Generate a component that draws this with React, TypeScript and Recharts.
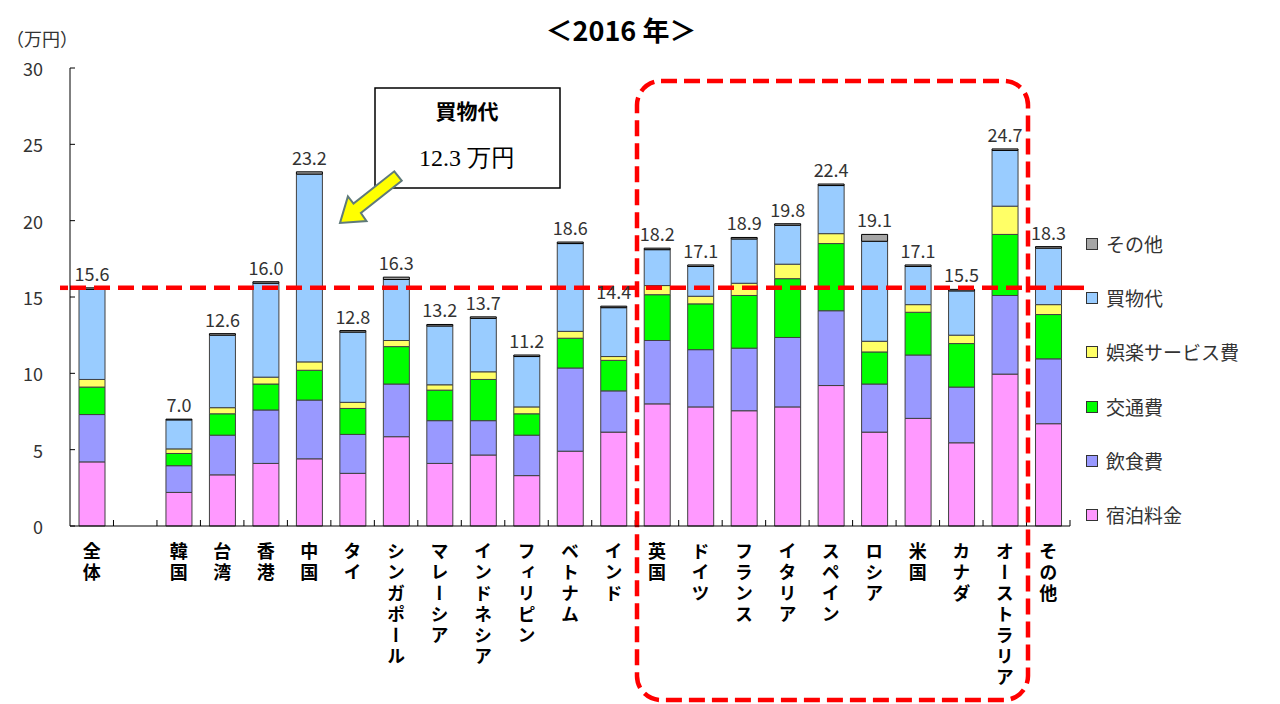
import React from 'react';
import { BarChart, Bar, XAxis, YAxis, LabelList, ReferenceLine, Legend, Customized } from 'recharts';

const categories = ['全体', '', '韓国', '台湾', '香港', '中国', 'タイ', 'シンガポール', 'マレーシア', 'インドネシア', 'フィリピン', 'ベトナム', 'インド', '英国', 'ドイツ', 'フランス', 'イタリア', 'スペイン', 'ロシア', '米国', 'カナダ', 'オーストラリア', 'その他'];

const lodging = [4.2, null, 2.2, 3.35, 4.1, 4.4, 3.45, 5.85, 4.1, 4.65, 3.3, 4.9, 6.15, 8.0, 7.8, 7.55, 7.8, 9.2, 6.15, 7.05, 5.45, 9.95, 6.7];
const food = [3.1, null, 1.75, 2.6, 3.5, 3.85, 2.55, 3.45, 2.8, 2.25, 2.65, 5.45, 2.7, 4.15, 3.75, 4.1, 4.55, 4.9, 3.15, 4.15, 3.65, 5.15, 4.25];
const transport = [1.8, null, 0.8, 1.4, 1.7, 1.95, 1.7, 2.45, 2.0, 2.7, 1.4, 1.95, 2.0, 3.0, 3.0, 3.45, 3.85, 4.4, 2.1, 2.8, 2.85, 4.0, 2.9];
const entertainment = [0.5, null, 0.3, 0.4, 0.45, 0.55, 0.4, 0.4, 0.35, 0.5, 0.45, 0.45, 0.25, 0.6, 0.5, 0.8, 0.95, 0.65, 0.7, 0.5, 0.55, 1.85, 0.65];
const shopping = [5.9, null, 1.9, 4.75, 6.15, 12.3, 4.6, 4.0, 3.85, 3.5, 3.3, 5.75, 3.2, 2.35, 1.95, 2.9, 2.55, 3.15, 6.55, 2.5, 2.9, 3.65, 3.7];
const other = [0.1, null, 0.05, 0.1, 0.1, 0.15, 0.1, 0.15, 0.1, 0.1, 0.1, 0.1, 0.1, 0.1, 0.1, 0.1, 0.1, 0.1, 0.45, 0.1, 0.1, 0.1, 0.1];
const totals = [15.6, null, 7.0, 12.6, 16.0, 23.2, 12.8, 16.3, 13.2, 13.7, 11.2, 18.6, 14.4, 18.2, 17.1, 18.9, 19.8, 22.4, 19.1, 17.1, 15.5, 24.7, 18.3];

const yTicks = [0, 5, 10, 15, 20, 25, 30];
const overallAverage = 15.6;

const series = [
  { key: 'lodging', name: '宿泊料金', color: '#FF99FF', values: lodging },
  { key: 'food', name: '飲食費', color: '#9999FF', values: food },
  { key: 'transport', name: '交通費', color: '#00FF00', values: transport },
  { key: 'entertainment', name: '娯楽サービス費', color: '#FFFF66', values: entertainment },
  { key: 'shopping', name: '買物代', color: '#99CCFF', values: shopping },
  { key: 'other', name: 'その他', color: '#A6A6A6', values: other },
];

const data = categories.map((c, i) => {
  const row: any = { name: c, total: totals[i] };
  series.forEach((s) => { row[s.key] = s.values[i]; });
  return row;
});

const FONT = '"Noto Sans CJK JP", "Noto Sans", sans-serif';

const XTick = (props: any) => {
  const { x, y, payload } = props;
  const label = String(payload.value || '');
  if (!label) return <g />;
  return (
    <text x={x} y={y + 16} fontSize={18} fontWeight={700} fill="#000" fontFamily={FONT}
      style={{ writingMode: 'vertical-rl', letterSpacing: 3 } as any}>{label}</text>
  );
};

const YTick = (props: any) => {
  const { x, y, payload } = props;
  return (
    <g>
      <text x={x} y={y} textAnchor="end" dominantBaseline="central" fontSize={18} fill="#333" fontFamily={FONT}>{payload.value}</text>
      <line x1={x + 27} x2={x + 32} y1={y} y2={y} stroke="#000" strokeWidth={1} />
    </g>
  );
};

const renderLegend = () => {
  const items = [...series].reverse();
  return (
    <div style={{ fontFamily: FONT }}>
      {items.map((s) => (
        <div key={s.key} style={{ display: 'flex', alignItems: 'center', height: 54.2 }}>
          <div style={{ width: 10, height: 10, background: s.color, border: '1px solid #333', marginRight: 8 }} />
          <span style={{ fontSize: 19, color: '#333', lineHeight: '20px' }}>{s.name}</span>
        </div>
      ))}
    </div>
  );
};

const Decorations = () => {
  const left = 70;
  const w = 1000;
  const n = categories.length;
  const ticks = [];
  for (let i = 1; i <= n; i++) {
    const xx = left + (w * i) / n;
    ticks.push(<line key={i} x1={xx} x2={xx} y1={526} y2={520} stroke="#000" strokeWidth={1} />);
  }
  return (
    <g>
      {ticks}
      <line x1={60} x2={70} y1={287.8} y2={287.8} stroke="#FF0000" strokeWidth={4.5} strokeDasharray="8 3" />
      <line x1={1070} x2={1090} y1={287.8} y2={287.8} stroke="#FF0000" strokeWidth={4.5} strokeDasharray="14 6" />
      <rect x={637} y={81} width={391} height={619} rx={24} ry={24} fill="none" stroke="#FF0000" strokeWidth={4.5} strokeDasharray="16 7" />
      <rect x={375} y={88} width={185} height={100} fill="#fff" stroke="#000" strokeWidth={1.5} />
      <text x={467} y={110} textAnchor="middle" dominantBaseline="central" fontSize={21} fontWeight={700} fill="#000" fontFamily={FONT}>買物代</text>
      <text x={467} y={158} textAnchor="middle" dominantBaseline="central" fontSize={24} fill="#000" fontFamily={'"Liberation Serif", "DejaVu Serif", serif'}>12.3 万円</text>
      <polygon points="401.7,180.7 360.9,213.0 366.5,221.1 340,223 347.9,196.5 353.5,203.6 394.3,171.3" fill="#FFFF00" stroke="#5F7A7A" strokeWidth={2} strokeLinejoin="miter" />
      <text x={621} y={29} textAnchor="middle" dominantBaseline="central" fontSize={27} fontWeight={700} fill="#000" fontFamily={FONT}>＜2016 年＞</text>
      <text x={6} y={38} dominantBaseline="central" fontSize={18} fill="#333" fontFamily={FONT}>（万円）</text>
    </g>
  );
};

export default function App() {
  return (
    <div style={{ position: 'absolute', left: 0, top: 0, width: 1280, height: 704, background: '#fff' }}>
      <BarChart width={1280} height={704} data={data} margin={{ top: 68, right: 210, bottom: 8, left: 0 }} barSize={26}>
        <XAxis dataKey="name" height={170} tick={<XTick />} tickLine={false} tickSize={0} tickMargin={0} interval={0} axisLine={{ stroke: '#000', strokeWidth: 1 }} />
        <YAxis width={70} domain={[0, 30]} ticks={yTicks} tick={<YTick />} tickLine={false} tickSize={0} tickMargin={27} axisLine={{ stroke: '#000', strokeWidth: 1 }} interval={0} />
        {series.map((s, idx) => (
          <Bar key={s.key} dataKey={s.key} name={s.name} stackId="a" fill={s.color} stroke={idx === series.length - 1 ? '#000' : '#404040'} strokeWidth={1} isAnimationActive={false}>
            {idx === series.length - 1 && (
              <LabelList dataKey="total" position="top" offset={7} fontSize={18} fill="#333" fontFamily={FONT} formatter={(v: any) => (v == null ? '' : Number(v).toFixed(1))} />
            )}
          </Bar>
        ))}
        <ReferenceLine y={overallAverage} stroke="#FF0000" strokeWidth={4.5} strokeDasharray="16 8" />
        <Legend layout="vertical" align="center" verticalAlign="middle" content={renderLegend} wrapperStyle={{ left: 1086, top: 217, width: 194 }} />
        <Customized component={Decorations} />
      </BarChart>
    </div>
  );
}
